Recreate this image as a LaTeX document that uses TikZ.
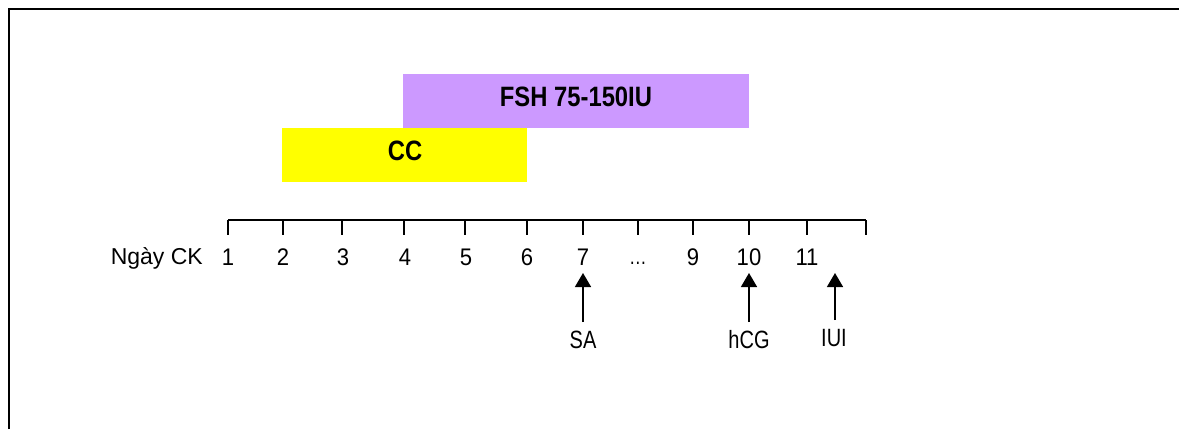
\documentclass[tikz,border=0pt]{standalone}
\usepackage{fontspec}
\setmainfont{Liberation Sans}
\newfontfamily\axisfont[FakeStretch=0.92]{Liberation Sans}
\newfontfamily\arrfont[FakeStretch=0.8]{Liberation Sans}
\newfontfamily\barfont[FakeStretch=0.85]{Liberation Sans Bold}
\usetikzlibrary{arrows.meta}
\definecolor{fshpurple}{HTML}{CC99FF}
\definecolor{ccyellow}{HTML}{FFFF00}
\begin{document}
\begin{tikzpicture}[x=1pt,y=-1pt,
  lbl/.style={inner sep=0pt,anchor=base,font=\fontsize{24}{26}\selectfont\axisfont},
  dlbl/.style={inner sep=0pt,anchor=base,font=\fontsize{25}{28}\selectfont\arrfont},
  barlbl/.style={inner sep=0pt,anchor=base,font=\fontsize{28}{30}\selectfont\barfont},
  tickline/.style={line width=1.5pt},
  arr/.style={line width=1.5pt,-{Triangle[width=16pt,length=14pt]}}]
\useasboundingbox (0,0) rectangle (1179,429);
% frame
\draw[line width=2pt] (9,429) -- (9,9) -- (1179,9);
% bars
\fill[fshpurple] (403,74) rectangle (749,128);
\node[barlbl] (fsh) at (576,106) {FSH 75-150IU};
\fill[ccyellow] (282,128) rectangle (527,182);
\node[barlbl] (cc) at (405,160) {CC};
% axis
\coordinate (a0) at (228,220);
\coordinate (a1) at (866,220);
\draw[tickline] (a0) -- (a1);
\foreach \x in {228,283,342,404,465,527,583,638,693,749,807,866}
  \draw[tickline] (\x,220) -- (\x,235);
\node[inner sep=0pt,anchor=base east,font=\fontsize{23}{26}\selectfont] (ngay) at (203,264) {Ngày CK};
\foreach \x/\t/\n in {228/1/l1,283/2/l2,343/3/l3,405/4/l4,466/5/l5,527/6/l6,583/7/l7,693/9/l9,749/10/l10,807/11/l11}
  \node[lbl] (\n) at (\x,265) {\t};
\node[inner sep=0pt,anchor=base,font=\fontsize{22}{24}\selectfont\arrfont] (l8) at (638,264) {…};
% arrows
\coordinate (saTip) at (583,273);
\coordinate (saBase) at (583,322);
\node[dlbl] (sa) at (583,348) {SA};
\draw[arr] (saBase) -- (saTip);
\coordinate (hcgTip) at (749,273);
\coordinate (hcgBase) at (749,322);
\node[dlbl] (hcg) at (749,348) {hCG};
\draw[arr] (hcgBase) -- (hcgTip);
\coordinate (iuiTip) at (835,273);
\coordinate (iuiBase) at (835,320);
\node[dlbl] (iui) at (834,346) {IUI};
\draw[arr] (iuiBase) -- (iuiTip);
\end{tikzpicture}
\end{document}
